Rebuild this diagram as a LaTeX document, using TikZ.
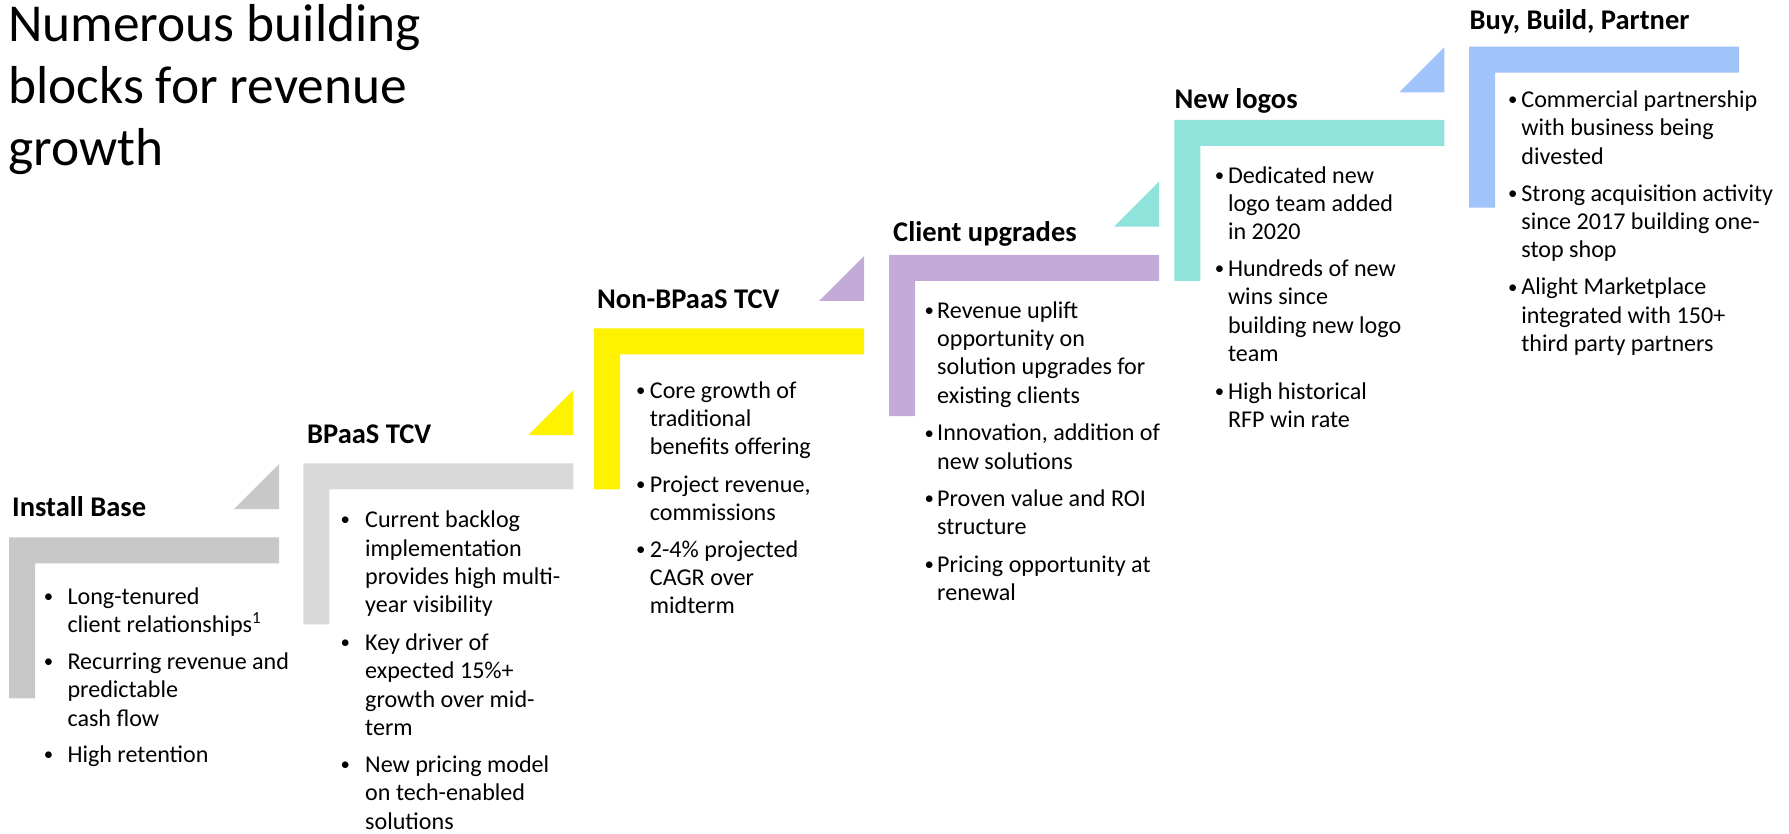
\documentclass[tikz,border=0pt]{standalone}
\usepackage{graphicx}
\usepackage{fontspec}
\setmainfont{Carlito}
\definecolor{cInstall}{RGB}{200,200,200}
\definecolor{cBpaas}{RGB}{217,217,217}
\definecolor{cYellow}{RGB}{255,242,0}
\definecolor{cPurple}{RGB}{195,170,216}
\definecolor{cTeal}{RGB}{143,227,219}
\definecolor{cBlue}{RGB}{160,196,250}
\newlength\bw
\newcommand\bt{\makebox[\bw][l]{\makebox[0pt]{\raisebox{0.08em}{\scalebox{0.78}{•}}}}}
\newcommand\stepL[3]{\fill[#1] (#2,#3) -- ++(270,0) -- ++(0,26) -- ++(-244,0) -- ++(0,135) -- ++(-26,0) -- cycle;}
\newcommand\wedgeT[3]{\fill[#1] (#2,#3) -- ++(0,-45) -- ++(-45,45) -- cycle;}
\begin{document}
\begin{tikzpicture}[x=1pt,y=-1pt,
  head/.style={font=\fontsize{28.5}{34}\selectfont\bfseries, anchor=base west, inner sep=0pt},
  body/.style={font=\fontsize{24.1}{28.3}\selectfont, anchor=base west, inner sep=0pt},
  title/.style={font=\fontsize{53.4}{62}\selectfont, anchor=base west, inner sep=0pt}]
\fill[white] (0,0) rectangle (1789,834);
\useasboundingbox (0,0) rectangle (1789,834);

% title
\node[title] (title) at (8,41.7) {\begin{tabular}[t]{@{}l@{}}Numerous building\\blocks for revenue\\growth\end{tabular}};

% step shapes
\stepL{cInstall}{9}{537.3}
\stepL{cBpaas}{303.3}{463.3}
\stepL{cYellow}{594}{328.3}
\stepL{cPurple}{889}{255}
\stepL{cTeal}{1174.3}{120}
\stepL{cBlue}{1469}{46.7}

\wedgeT{cInstall}{279}{509}
\wedgeT{cYellow}{573.3}{435}
\wedgeT{cPurple}{864}{301}
\wedgeT{cTeal}{1159}{226.7}
\wedgeT{cBlue}{1444.3}{92.3}

% headings
\node[head] (h1) at (12,516) {Install Base};
\node[head] (h2) at (307,443.3) {BPaaS TCV};
\node[head] (h3) at (597,308.3) {Non-BPaaS TCV};
\node[head] (h4) at (893,241.7) {Client upgrades};
\node[head] (h5) at (1174.5,108.3) {New logos};
\node[head] (h6) at (1469.5,29.3) {Buy, Build, Partner};

% bullet texts
\node[body] (t1) at (48.3,604) {\setlength\bw{19pt}\begin{tabular}[t]{@{}l@{}l@{}}
\bt & Long-tenured\\
 & client relationships\textsuperscript{1}\\[9pt]
\bt & Recurring revenue and\\
 & predictable\\
 & cash flow\\[8pt]
\bt & High retention
\end{tabular}};

\node[body] (t2) at (345,527.7) {\setlength\bw{20pt}\begin{tabular}[t]{@{}l@{}l@{}}
\bt & Current backlog\\
 & implementation\\
 & provides high multi-\\
 & year visibility\\[9.5pt]
\bt & Key driver of\\
 & expected 15\%+\\
 & growth over mid-\\
 & term\\[9pt]
\bt & New pricing model\\
 & on tech-enabled\\
 & solutions
\end{tabular}};

\node[body] (t3) at (640.7,398.3) {\setlength\bw{9pt}\begin{tabular}[t]{@{}l@{}l@{}}
\bt & Core growth of\\
 & traditional\\
 & benefits offering\\[9pt]
\bt & Project revenue,\\
 & commissions\\[8.5pt]
\bt & 2-4\% projected\\
 & CAGR over\\
 & midterm
\end{tabular}};

\node[body] (t4) at (929,318.3) {\setlength\bw{8pt}\begin{tabular}[t]{@{}l@{}l@{}}
\bt & Revenue uplift\\
 & opportunity on\\
 & solution upgrades for\\
 & existing clients\\[9.5pt]
\bt & Innovation, addition of\\
 & new solutions\\[8.5pt]
\bt & Proven value and ROI\\
 & structure\\[9.4pt]
\bt & Pricing opportunity at\\
 & renewal
\end{tabular}};

\node[body] (t5) at (1219.3,183.3) {\setlength\bw{8.5pt}\begin{tabular}[t]{@{}l@{}l@{}}
\bt & Dedicated new\\
 & logo team added\\
 & in 2020\\[8.5pt]
\bt & Hundreds of new\\
 & wins since\\
 & building new logo\\
 & team\\[9.4pt]
\bt & High historical\\
 & RFP win rate
\end{tabular}};

\node[body] (t6) at (1512.7,107.7) {\setlength\bw{8.5pt}\begin{tabular}[t]{@{}l@{}l@{}}
\bt & Commercial partnership\\
 & with business being\\
 & divested\\[8.5pt]
\bt & Strong acquisition activity\\
 & since 2017 building one-\\
 & stop shop\\[9pt]
\bt & Alight Marketplace\\
 & integrated with 150+\\
 & third party partners
\end{tabular}};
\end{tikzpicture}
\end{document}
